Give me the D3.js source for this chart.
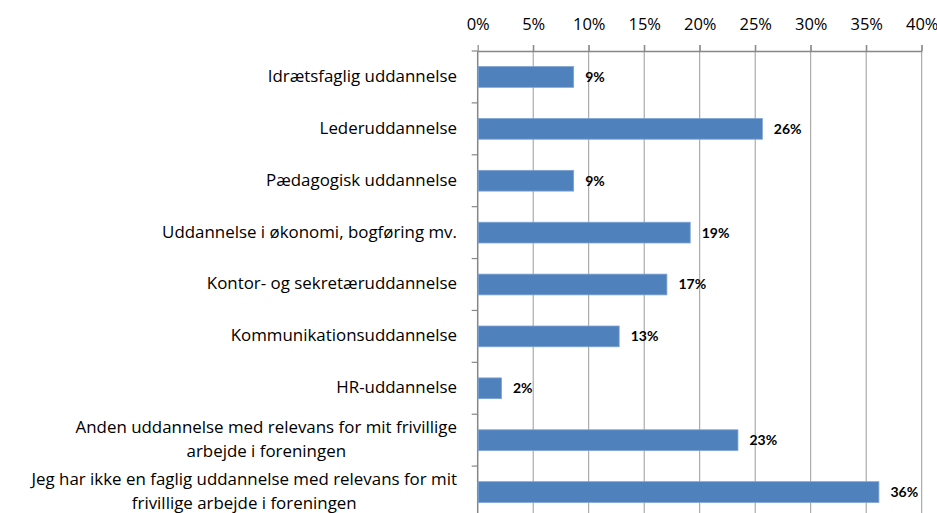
<!DOCTYPE html>
<html><head><meta charset="utf-8">
<script src="https://cdn.jsdelivr.net/npm/d3@7/dist/d3.min.js"></script>
<style>body{margin:0;background:#fff}svg{display:block}</style>
</head><body>
<svg id="chart" width="937" height="513"></svg>
<script>
const categories = [
  ["Idrætsfaglig uddannelse"],
  ["Lederuddannelse"],
  ["Pædagogisk uddannelse"],
  ["Uddannelse i økonomi, bogføring mv."],
  ["Kontor- og sekretæruddannelse"],
  ["Kommunikationsuddannelse"],
  ["HR-uddannelse"],
  ["Anden uddannelse med relevans for mit frivillige", "arbejde i foreningen"],
  ["Jeg har ikke en faglig uddannelse med relevans for mit", "frivillige arbejde i foreningen"]
];
const values = [8.6, 25.6, 8.6, 19.1, 17.0, 12.7, 2.1, 23.4, 36.1];
const valueLabels = ["9%", "26%", "9%", "19%", "17%", "13%", "2%", "23%", "36%"];
const xTicks = [0, 5, 10, 15, 20, 25, 30, 35, 40];

const svg = d3.select("#chart");
const pLeft = 477.7, pRight = 921.7, pTop = 51, pBottom = 518;
const font = "'Open Sans', Lato, sans-serif";
const bfont = "Lato, 'Open Sans', sans-serif";

const x = d3.scaleLinear().domain([0, 40]).range([pLeft, pRight]);
const y = d3.scaleBand().domain(d3.range(categories.length)).range([pTop, pBottom]).paddingInner(0.6).paddingOuter(0.3);
const yb = d3.scaleBand().domain(d3.range(categories.length)).range([pTop, pBottom]);

// gridlines
svg.append("g").selectAll("line").data(xTicks.slice(1)).join("line")
  .attr("x1", d => x(d)).attr("x2", d => x(d))
  .attr("y1", pTop - 6).attr("y2", 513)
  .attr("stroke", "#9a9a9a").attr("stroke-width", 1);

// top axis
const xAxis = d3.axisTop(x).tickValues(xTicks).tickFormat(d => d + "%").tickSize(6).tickSizeOuter(0);
const gx = svg.append("g").attr("transform", `translate(0,${pTop})`).call(xAxis);
gx.select(".domain").attr("stroke", "#868686").attr("stroke-width", 1.5);
gx.selectAll(".tick line").attr("stroke", "#868686").attr("stroke-width", 1.2);
gx.selectAll(".tick text").attr("font-family", font).attr("font-size", 16.5).attr("fill", "#000").attr("dy", "-0.72em");

// left axis
const gy = svg.append("g");
gy.append("line").attr("x1", pLeft).attr("x2", pLeft).attr("y1", pTop).attr("y2", 513)
  .attr("stroke", "#868686").attr("stroke-width", 1.5);
gy.selectAll("line.t").data(d3.range(categories.length + 1)).join("line").attr("class", "t")
  .attr("x1", pLeft - 6).attr("x2", pLeft)
  .attr("y1", i => i < categories.length ? yb(i) : pBottom).attr("y2", i => i < categories.length ? yb(i) : pBottom)
  .attr("stroke", "#868686").attr("stroke-width", 1.2);

// bars
svg.append("g").selectAll("rect").data(values).join("rect")
  .attr("x", pLeft + 0.5).attr("y", (d, i) => y(i))
  .attr("width", d => x(d) - pLeft).attr("height", y.bandwidth())
  .attr("fill", "#4F81BD").attr("stroke", "#7fa3d3").attr("stroke-width", 0.8);

// value labels
svg.append("g").selectAll("text").data(values).join("text")
  .attr("x", d => x(d) + 12).attr("y", (d, i) => y(i) + y.bandwidth() / 2)
  .attr("dy", "0.35em").attr("font-family", bfont).attr("font-weight", "bold")
  .attr("font-size", 14).attr("fill", "#000")
  .text((d, i) => valueLabels[i]);

// category labels
const labelRight = 457;
const lh = 24;
const cg = svg.append("g").attr("font-family", font).attr("font-size", 16.9).attr("fill", "#000");
categories.forEach((lines, i) => {
  const cy = yb(i) + yb.bandwidth() / 2 - 1;
  const g = cg.append("g");
  const texts = lines.map((t, k) => g.append("text").attr("y", cy + (k - (lines.length - 1) / 2) * lh).attr("dy", "0.35em").text(t));
  const w = d3.max(texts, t => t.node().getComputedTextLength());
  texts.forEach(t => t.attr("text-anchor", "middle").attr("x", labelRight - w / 2));
});
</script>
</body></html>
